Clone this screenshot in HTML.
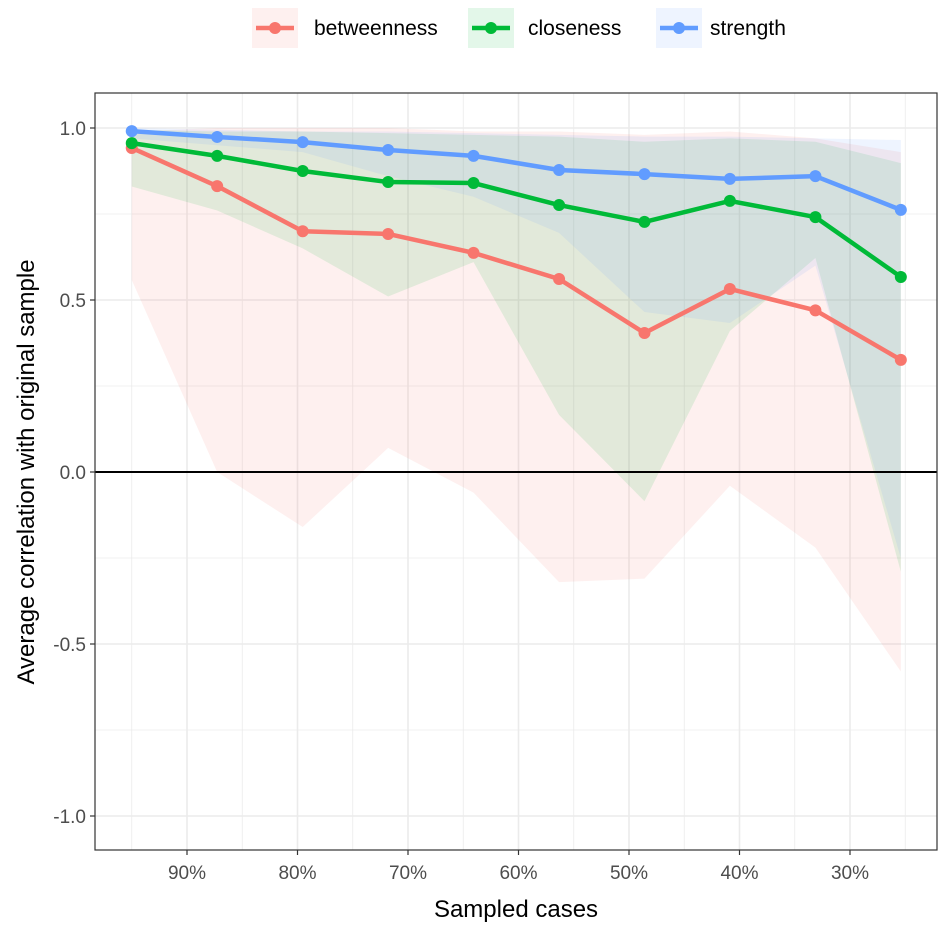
<!DOCTYPE html>
<html><head><meta charset="utf-8"><style>
html,body{margin:0;padding:0;background:#fff;}
svg{display:block;font-family:"Liberation Sans",Arial,sans-serif;}
</style></head><body>
<svg id="chart" width="945" height="928"></svg>
<script>
const xPct = [95, 87.27, 79.53, 71.8, 64.07, 56.33, 48.6, 40.87, 33.13, 25.4];
const seriesNames = ["betweenness", "closeness", "strength"];
const betweenness = [0.942, 0.831, 0.70, 0.692, 0.637, 0.561, 0.404, 0.532, 0.47, 0.326];
const closeness = [0.956, 0.919, 0.875, 0.843, 0.840, 0.776, 0.727, 0.788, 0.741, 0.567];
const strength = [0.991, 0.974, 0.959, 0.936, 0.919, 0.878, 0.866, 0.852, 0.860, 0.762];
const betweennessLow = [0.558, 0.0, -0.16, 0.07, -0.06, -0.32, -0.31, -0.04, -0.22, -0.58];
const betweennessHigh = [0.99, 1.0, 1.0, 1.0, 0.99, 0.99, 0.98, 0.99, 0.97, 0.93];
const closenessLow = [0.83, 0.76, 0.65, 0.51, 0.61, 0.166, -0.085, 0.41, 0.622, -0.29];
const closenessHigh = [0.995, 0.99, 0.99, 0.985, 0.98, 0.975, 0.96, 0.97, 0.96, 0.898];
const strengthLow = [0.97, 0.95, 0.93, 0.86, 0.80, 0.695, 0.465, 0.433, 0.60, -0.25];
const strengthHigh = [1.0, 0.995, 0.99, 0.99, 0.985, 0.98, 0.975, 0.975, 0.97, 0.965];
const yTicks = [-1.0, -0.5, 0.0, 0.5, 1.0];
const yTickLabels = ["-1.0", "-0.5", "0.0", "0.5", "1.0"];
const xTicks = [90, 80, 70, 60, 50, 40, 30];
const xTickLabels = ["90%", "80%", "70%", "60%", "50%", "40%", "30%"];

const colors = {betweenness:"#F8766D", closeness:"#00BA38", strength:"#619CFF"};
const L=95, R=937, T=93, B=850;
function xs(p){ return 187 + (90 - p) * 11.05; }
function ys(v){ return 472 - v * 344; }
const NS="http://www.w3.org/2000/svg";
const svg=document.getElementById('chart');
function mk(tag, attrs, parent){
  const e=document.createElementNS(NS,tag);
  for(const k in attrs) e.setAttribute(k, attrs[k]);
  (parent||svg).appendChild(e); return e;
}
const panel = mk('rect',{x:L,y:T,width:R-L,height:B-T,fill:'#fff'});


const grid = mk('g',{});


for(let v=-1.0; v<=1.01; v+=0.25){
  const major = Math.abs(v*2-Math.round(v*2))<1e-6;
  const l=mk('line',{x1:L,x2:R,y1:ys(v),y2:ys(v),stroke:'#ebebeb','stroke-width':major?1.6:0.8},grid);
  
  
}
for(let p=95; p>=25; p-=5){
  const major = p%10===0;
  const l=mk('line',{x1:xs(p),x2:xs(p),y1:T,y2:B,stroke:'#ebebeb','stroke-width':major?1.6:0.8},grid);
  
  
}
const bands = {betweenness:[betweennessLow,betweennessHigh], closeness:[closenessLow,closenessHigh], strength:[strengthLow,strengthHigh]};
const vals = {betweenness, closeness, strength};
seriesNames.forEach(n=>{
  const [lo,hi]=bands[n];
  let d='M'+xPct.map((p,i)=>xs(p)+','+ys(hi[i])).join(' L');
  d+=' L'+xPct.map((p,i)=>[xs(p),ys(lo[i])]).reverse().map(a=>a.join(',')).join(' L')+' Z';
  const b=mk('path',{d,fill:colors[n],'fill-opacity':0.11});
  
  
});
const zl=mk('line',{x1:L,x2:R,y1:ys(0),y2:ys(0),stroke:'#000','stroke-width':2});


seriesNames.forEach(n=>{
  const g=mk('g',{});
  
  
  const pl=mk('polyline',{points:xPct.map((p,i)=>xs(p)+','+ys(vals[n][i])).join(' '),fill:'none',stroke:colors[n],'stroke-width':4.5,'stroke-linejoin':'round'},g);
  
  
  xPct.forEach((p,i)=>{
    const c=mk('circle',{cx:xs(p),cy:ys(vals[n][i]),r:6,fill:colors[n]},g);
    
    
  });
});
const border=mk('rect',{x:L,y:T,width:R-L,height:B-T,fill:'none',stroke:'#333','stroke-width':1.2});


yTicks.forEach((v,i)=>{
  const t=mk('line',{x1:L-5,x2:L,y1:ys(v),y2:ys(v),stroke:'#333','stroke-width':1.2});
  
  
  const tx=mk('text',{x:L-9,y:ys(v)+7,'text-anchor':'end','font-size':19,fill:'#4d4d4d'});
  tx.textContent=yTickLabels[i];
  
  
});
xTicks.forEach((p,i)=>{
  const t=mk('line',{x1:xs(p),x2:xs(p),y1:B,y2:B+5,stroke:'#333','stroke-width':1.2});
  
  
  const tx=mk('text',{x:xs(p),y:B+29,'text-anchor':'middle','font-size':19,fill:'#4d4d4d'});
  tx.textContent=xTickLabels[i];
  
  
});
const xt=mk('text',{x:516,y:917,'text-anchor':'middle','font-size':24,fill:'#000'});
xt.textContent='Sampled cases';


const yt=mk('text',{x:0,y:0,'text-anchor':'middle','font-size':24,fill:'#000',transform:'translate(34,472) rotate(-90)'});
yt.textContent='Average correlation with original sample';


const legX=[252,468,656], legTx=[314,528,710];
seriesNames.forEach((n,i)=>{
  const g=mk('g',{});
  
  
  mk('rect',{x:legX[i],y:8,width:46,height:40,fill:colors[n],'fill-opacity':0.11},g);
  mk('line',{x1:legX[i]+4,x2:legX[i]+42,y1:28,y2:28,stroke:colors[n],'stroke-width':4.5},g);
  mk('circle',{cx:legX[i]+23,cy:28,r:6,fill:colors[n]},g);
  const tx=mk('text',{x:legTx[i],y:35,'font-size':21,fill:'#000'},g);
  tx.textContent=n;
});
</script>
</body></html>
